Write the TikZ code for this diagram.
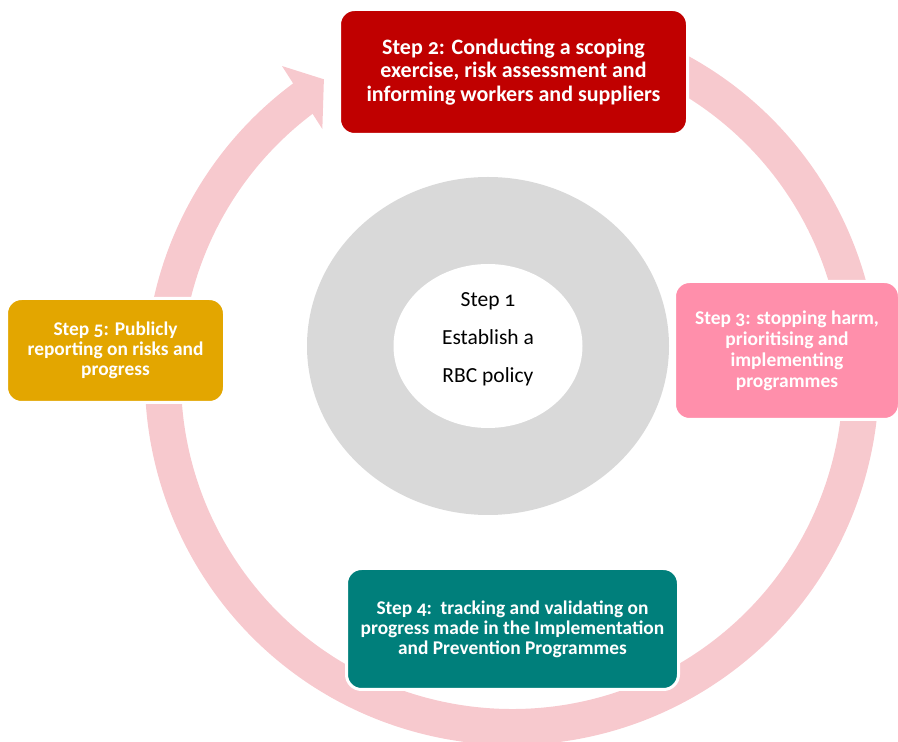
\documentclass[tikz,border=0pt]{standalone}
\usepackage{fontspec}
\setmainfont{Carlito}[Numbers=OldStyle]
\usetikzlibrary{calc}
\definecolor{ringpink}{HTML}{F7C9CE}
\definecolor{coregray}{HTML}{D9D9D9}
\definecolor{stepred}{HTML}{C00000}
\definecolor{steppink}{HTML}{FF8FAB}
\definecolor{stepteal}{HTML}{007F7B}
\definecolor{stepgold}{HTML}{E3A600}
\tikzset{
  stepbox/.style={rounded corners=15pt, draw=white, line width=3pt, text=white,
    align=center, inner sep=0pt},
}
\begin{document}
\begin{tikzpicture}[x=1pt,y=1pt]
\useasboundingbox (0,0) rectangle (898,742);
\coordinate (c) at (512,364);
% circular arrow band
\fill[ringpink] ($(c)+(75:367)$) arc[start angle=75,end angle=-234,radius=367]
  -- ($(c)+(-234:331)$) arc[start angle=-234,end angle=75,radius=331] -- cycle;
\fill[ringpink] ($(c)+(126.4:387.6)$) -- ($(c)+(122.2:353)$) -- ($(c)+(127.3:313)$) -- cycle;
% central ring
\fill[coregray] (488,396) ellipse[x radius=181, y radius=169];
\fill[white] (488,396) ellipse[x radius=94.5, y radius=82];
\node[align=center, font=\fontsize{21.5}{38}\selectfont, text=black] (s1) at (488,403)
  {Step 1\\Establish a\\RBC policy};
% step boxes
\node[stepbox, fill=stepred, minimum width=348pt, minimum height=125pt,
  font=\bfseries\fontsize{22}{23.5}\selectfont] (s2) at (513.5,670)
  {Step 2: Conducting a scoping\\exercise, risk assessment and\\informing workers and suppliers};
\node[stepbox, fill=steppink, minimum width=225pt, minimum height=138pt,
  font=\bfseries\fontsize{19.5}{21}\selectfont] (s3) at (787,391.5)
  {Step 3: stopping harm,\\prioritising and\\implementing\\programmes};
\node[stepbox, fill=stepteal, minimum width=332pt, minimum height=121pt,
  font=\bfseries\fontsize{19.4}{20}\selectfont] (s4) at (512.5,113)
  {Step 4:\ \ tracking and validating on\\progress made in the Implementation\\and Prevention Programmes};
\node[stepbox, fill=stepgold, minimum width=218pt, minimum height=104pt,
  font=\bfseries\fontsize{19.4}{20}\selectfont] (s5) at (115.5,391.5)
  {Step 5: Publicly\\reporting on risks and\\progress};
\end{tikzpicture}
\end{document}
